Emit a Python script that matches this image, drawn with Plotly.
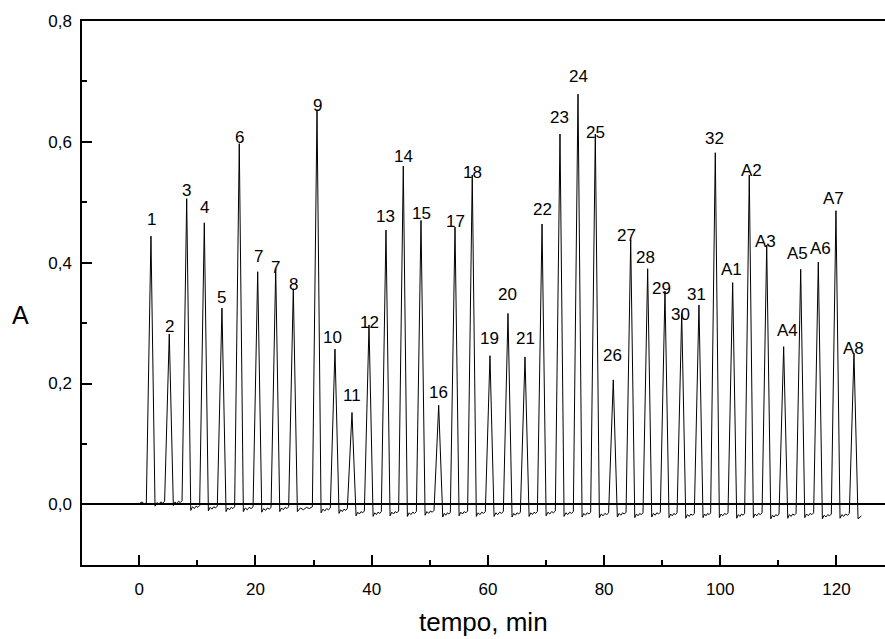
import plotly.graph_objects as go

# ---- data ----
peak_labels = ["1", "2", "3", "4", "5", "6", "7", "7", "8", "9", "10", "11", "12",
               "13", "14", "15", "16", "17", "18", "19", "20", "21", "22", "23",
               "24", "25", "26", "27", "28", "29", "30", "31", "32",
               "A1", "A2", "A3", "A4", "A5", "A6", "A7", "A8"]
peak_times = [2.01, 5.16, 8.16, 11.19, 14.23, 17.21, 20.38, 23.48, 26.51, 30.59,
              33.68, 36.61, 39.54, 42.46, 45.44, 48.49, 51.53, 54.34, 57.31, 60.36,
              63.46, 66.39, 69.32, 72.41, 75.51, 78.49, 81.58, 84.58, 87.50, 90.48,
              93.36, 96.33, 99.14, 102.13, 104.99, 107.99, 110.91, 113.84, 116.87,
              119.91, 123.01]
peak_heights = [0.444, 0.282, 0.506, 0.466, 0.325, 0.597, 0.385, 0.390, 0.357, 0.653,
                0.257, 0.152, 0.297, 0.454, 0.560, 0.470, 0.164, 0.459, 0.545, 0.246,
                0.316, 0.244, 0.464, 0.613, 0.679, 0.613, 0.206, 0.437, 0.390, 0.353,
                0.316, 0.330, 0.582, 0.367, 0.545, 0.429, 0.261, 0.389, 0.401, 0.486,
                0.250]
# baseline minimum right after each peak
valley_depths = [-0.003, -0.002, -0.010, -0.011, -0.012, -0.012, -0.013, -0.012,
                 -0.012, -0.014, -0.015, -0.019, -0.020, -0.019, -0.020, -0.018,
                 -0.021, -0.019, -0.020, -0.020, -0.021, -0.020, -0.019, -0.020,
                 -0.021, -0.022, -0.021, -0.022, -0.021, -0.022, -0.023, -0.022,
                 -0.022, -0.023, -0.022, -0.024, -0.023, -0.022, -0.024, -0.023,
                 -0.024]
trace_start = (0.1, 0.002)
trace_end = (124.3, -0.019)

# ---- label placement (pixels, styling only) ----
label_gap_px = [12, 3, 4, 11, 6, 2, 11, -3, 0, 0, 7, 13, -2, 9, 5, 2, 8, 1, -2, 13,
                14, 14, 10, 12, 13, -3, 20, 0, 7, -2, -6, 6, 10, 9, 0, -1, 12, 11,
                9, 8, 0]
label_dx_px = [1, 0, 0, 0, 0, 0, 1, 0, 0, 0, -2, 0, 0, 0, 0, 0, 0, 0, 0, 0,
               0, 0, 0, 0, 0, 0, -1, -4, -2, -3, -1, -2, -1, -1, 2, -1, 4, -3,
               2, -2, 0]

# ---- build the trace from the read values ----
RISE, FALL = 0.8, 0.7
wiggle = [(0.2, 0.006), (0.4, 0.003), (0.6, 0.007), (0.8, 0.005)]
xs = [trace_start[0], 0.5, 0.8]
ys = [trace_start[1], 0.004, 0.001]
prev_level = 0.002
for i, (t, h, d) in enumerate(zip(peak_times, peak_heights, valley_depths)):
    xs += [t - RISE, t, t + FALL]
    ys += [prev_level, h, d]
    if i + 1 < len(peak_times):
        a = t + FALL
        b = peak_times[i + 1] - RISE
        for f, off in wiggle:
            xs.append(a + f * (b - a))
            ys.append(d + off)
        prev_level = d + 0.008
xs.append(trace_end[0])
ys.append(trace_end[1])

FONT = "Liberation Sans, Arial, sans-serif"

fig = go.Figure()
fig.add_trace(go.Scatter(x=xs, y=ys, mode="lines",
                         line=dict(color="black", width=1), hoverinfo="skip",
                         showlegend=False))

annotations = []
for lab, t, h, g, dx in zip(peak_labels, peak_times, peak_heights,
                            label_gap_px, label_dx_px):
    annotations.append(dict(x=t, y=h, text=lab, showarrow=False, xanchor="center",
                            yanchor="bottom", yshift=g - 7, xshift=dx,
                            font=dict(family=FONT, size=17, color="black")))
annotations.append(dict(xref="paper", yref="paper", x=0.5, y=-0.105,
                        text="tempo, min", showarrow=False, xanchor="center",
                        yanchor="middle",
                        font=dict(family=FONT, size=26, color="black")))
annotations.append(dict(xref="paper", yref="paper", x=-0.077, y=0.46,
                        text="A", showarrow=False, xanchor="center",
                        yanchor="middle",
                        font=dict(family=FONT, size=25, color="black")))

fig.update_layout(
    width=885, height=639,
    margin=dict(l=82, r=0, t=21, b=74),
    paper_bgcolor="white", plot_bgcolor="white",
    separators=",.",
    font=dict(family=FONT, size=17, color="black"),
    annotations=annotations,
    xaxis=dict(range=[-9.86, 128.35], tick0=0, dtick=20, ticks="inside",
               ticklen=10, tickwidth=1.5, tickcolor="black",
               minor=dict(dtick=10, tick0=0, ticks="inside", ticklen=5,
                          tickwidth=1.5, tickcolor="black"),
               showline=True, linewidth=1.5, linecolor="black", mirror=True,
               showgrid=False, zeroline=False, ticklabelstandoff=8,
               tickfont=dict(family=FONT, size=17, color="black")),
    yaxis=dict(range=[-0.1004, 0.8], tick0=0, dtick=0.2, tickformat=".1f",
               ticks="inside", ticklen=10, tickwidth=1.5, tickcolor="black",
               minor=dict(dtick=0.1, tick0=0, ticks="inside", ticklen=5,
                          tickwidth=1.5, tickcolor="black"),
               showline=True, linewidth=1.5, linecolor="black", mirror=False,
               showgrid=False, zeroline=True, zerolinecolor="black",
               zerolinewidth=1.5, ticklabelstandoff=5,
               tickfont=dict(family=FONT, size=17, color="black")),
)

fig.write_html("out.html")
